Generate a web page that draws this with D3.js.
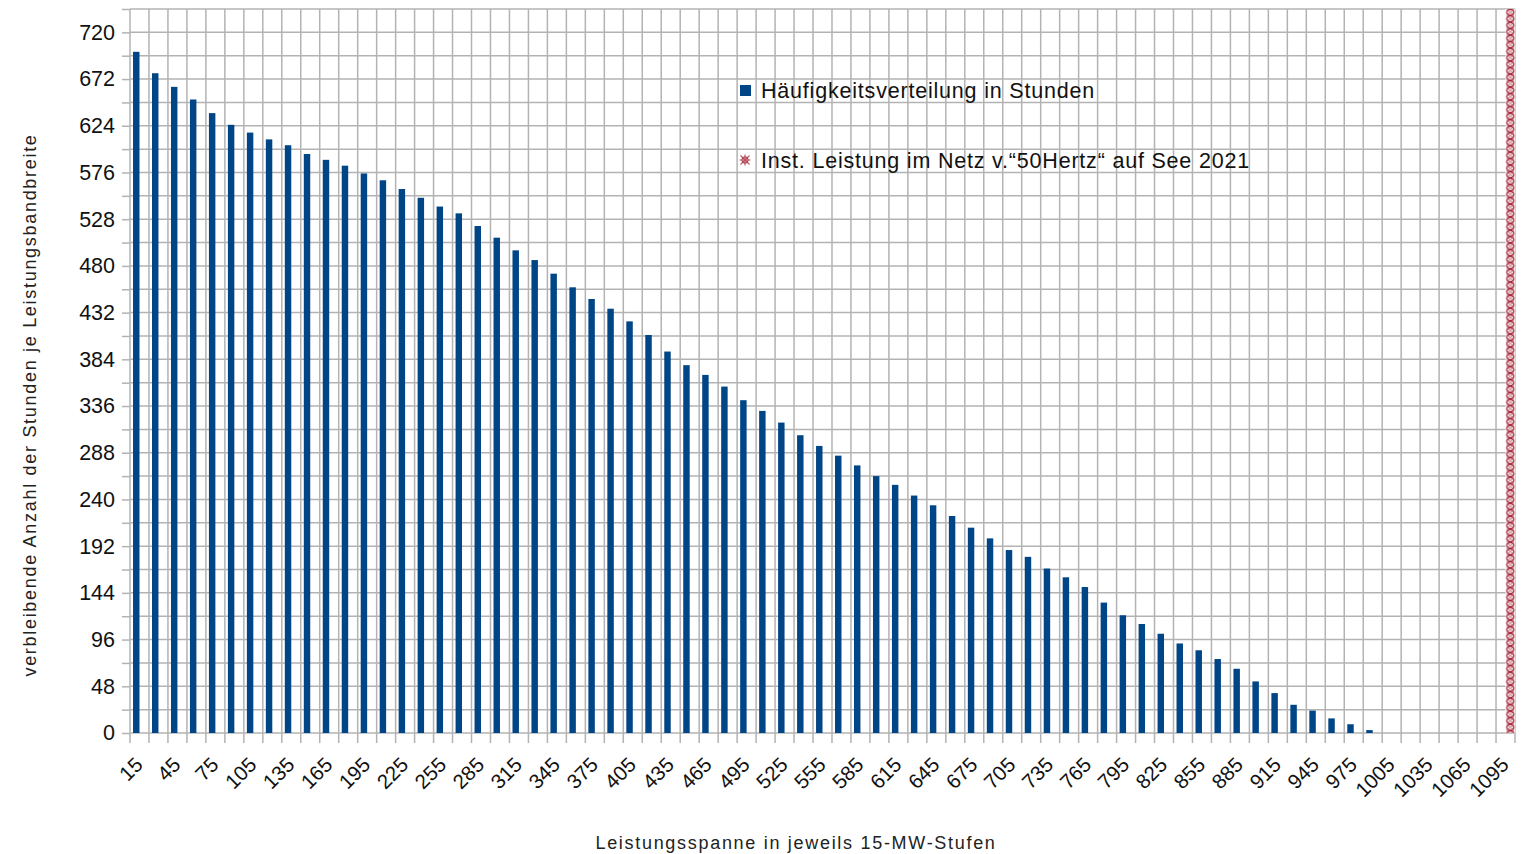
<!DOCTYPE html>
<html><head><meta charset="utf-8">
<script src="https://cdn.jsdelivr.net/npm/d3@7"></script>
<style>body{margin:0;background:#fff} svg{display:block}</style>
</head><body><svg id="c" width="1521" height="854"></svg>
<script>
const categories = [15,30,45,60,75,90,105,120,135,150,165,180,195,210,225,240,255,270,285,300,315,330,345,360,375,390,405,420,435,450,465,480,495,510,525,540,555,570,585,600,615,630,645,660,675,690,705,720,735,750,765,780,795,810,825,840,855,870,885,900,915,930,945,960,975,990,1005,1020,1035,1050,1065,1080,1095];
const hoursValues = [700,678,664,651,637,625,617,610,604,595,
  589,583,575,568,559,550,541,534,521,509,
  496,486,472,458,446,436,423,409,392,378,
  368,356,342,331,319,306,295,285,275,264,
  255,244,234,223,211,200,188,181,169,160,
  150,134,121,112,102,92,85,76,66,53,
  41,29,23,15,9,3,
  0,0,0,0,0,0,0];
const instCategories = [1095];
const instValues = [744];
const yTickValues = [0,24,48,72,96,120,144,168,192,216,240,264,288,312,336,360,384,408,432,456,480,504,528,552,576,600,624,648,672,696,720,744];
const yTickLabels = [0,48,96,144,192,240,288,336,384,432,480,528,576,624,672,720];
const xTickLabels = [15,45,75,105,135,165,195,225,255,285,315,345,375,405,435,465,495,525,555,585,615,645,675,705,735,765,795,825,855,885,915,945,975,1005,1035,1065,1095];
const seriesNames = ["Häufigkeitsverteilung in Stunden", "Inst. Leistung im Netz v.\u201C50Hertz\u201C auf See 2021"];
const xTitle = "Leistungsspanne in jeweils 15-MW-Stufen";
const yTitle = "verbleibende Anzahl der Stunden je Leistungsbandbreite";

const blue = "#004586", red = "#a82c3c", grid = "#b3b3b3";
const L = 130, R = 1515, T = 9, B = 733;
const svg = d3.select("#c");

const x0 = d3.scaleBand().domain(categories).range([L, R]).padding(0);
const bw = x0.bandwidth();
const x1 = d3.scaleBand().domain(["h","i"]).range([bw*0.16, bw*0.84]);
const y = d3.scaleLinear().domain([0, 744]).range([B, T]);

// pattern for installed capacity
const defs = svg.append("defs");
const pw = x1.bandwidth() * 1.5;
const instX = x0(instCategories[0]) + x1("i");
const pat = defs.append("pattern").attr("id","hatch").attr("patternUnits","userSpaceOnUse")
  .attr("x", instX).attr("y", T).attr("width", pw).attr("height", 6.5);
pat.append("rect").attr("width", pw).attr("height", 6.5).attr("fill","#fff");
pat.append("path").attr("d", `M1,0.5L${pw-1},6M${pw-1},0.5L1,6`).attr("stroke", red).attr("stroke-width", 0.9).attr("opacity",0.7);
pat.append("ellipse").attr("cx", pw/2).attr("cy", 3.25).attr("rx", pw/2-1.3).attr("ry", 2.9)
  .attr("fill","none").attr("stroke", red).attr("stroke-width", 1.4);

const pat2 = defs.append("pattern").attr("id","hatch2").attr("patternUnits","userSpaceOnUse")
  .attr("x", 738).attr("y", 153).attr("width", 14).attr("height", 14);
pat2.append("rect").attr("width",14).attr("height",14).attr("fill","#fff");
pat2.append("path").attr("d","M2.5,2.5L11.5,11.5M11.5,2.5L2.5,11.5M7,1.5L7,12.5M1.5,7L12.5,7").attr("stroke", red).attr("stroke-width",1.1).attr("opacity",0.8);
pat2.append("circle").attr("cx",7).attr("cy",7).attr("r",3.2).attr("fill","none").attr("stroke",red).attr("stroke-width",1);

// horizontal grid
svg.append("g").selectAll("line").data(yTickValues).join("line")
  .attr("x1", L).attr("x2", R).attr("y1", d => y(d)).attr("y2", d => y(d))
  .attr("stroke", grid).attr("stroke-width", 1.5);
// vertical grid at category boundaries
const bounds = categories.map(c => x0(c)).concat([x0.range()[1]]);
svg.append("g").selectAll("line").data(bounds).join("line")
  .attr("x1", d => d).attr("x2", d => d).attr("y1", T).attr("y2", B + 10)
  .attr("stroke", grid).attr("stroke-width", 1.5);

// y axis ticks + labels
const yAxis = d3.axisLeft(y).tickValues(yTickValues).tickSize(8).tickPadding(7)
  .tickFormat(d => yTickLabels.includes(d) ? d : "");
const ga = svg.append("g").attr("transform", `translate(${L},0)`).call(yAxis);
ga.select(".domain").remove();
ga.selectAll(".tick line").attr("stroke", grid).attr("stroke-width", 1.5);
ga.selectAll(".tick text").attr("font-family", "Liberation Sans, Arial, sans-serif")
  .attr("font-size", 21.5).attr("fill", "#111");

// bars
svg.append("g").selectAll("rect").data(categories.map((c,i) => ({c, v: hoursValues[i]})).filter(d => d.v > 0))
  .join("rect")
  .attr("x", d => x0(d.c) + x1("h")).attr("width", x1.bandwidth())
  .attr("y", d => y(d.v)).attr("height", d => y(0) - y(d.v)).attr("fill", blue);
svg.append("g").selectAll("rect").data(instCategories.map((c,i) => ({c, v: instValues[i]})))
  .join("rect")
  .attr("x", d => x0(d.c) + x1("i")).attr("width", pw)
  .attr("y", d => y(d.v)).attr("height", d => y(0) - y(d.v)).attr("fill", "url(#hatch)");

// x labels
svg.append("g").selectAll("text").data(xTickLabels).join("text")
  .attr("transform", d => `translate(${x0(d) + bw/2 + 4.5},766) rotate(-45)`)
  .attr("text-anchor", "end")
  .attr("font-family", "Liberation Sans, Arial, sans-serif").attr("font-size", 20.5).attr("fill", "#111")
  .text(d => d);

// axis titles
svg.append("text").attr("x", 796).attr("y", 849).attr("text-anchor","middle")
  .attr("font-family","Liberation Sans, Arial, sans-serif").attr("font-size", 18).attr("letter-spacing", 1.7)
  .attr("fill","#222").text(xTitle);
svg.append("text").attr("transform","translate(36,405) rotate(-90)").attr("text-anchor","middle")
  .attr("font-family","Liberation Sans, Arial, sans-serif").attr("font-size", 18).attr("letter-spacing", 1.7)
  .attr("fill","#222").text(yTitle);

// legend
svg.append("rect").attr("x", 740).attr("y", 85).attr("width", 11).attr("height", 11).attr("fill", blue);
svg.append("rect").attr("x", 738).attr("y", 153).attr("width", 14).attr("height", 14).attr("fill", "url(#hatch2)");
svg.append("g").selectAll("text").data(seriesNames).join("text")
  .attr("x", 761).attr("y", (d,i) => i === 0 ? 98 : 168)
  .attr("font-family","Liberation Sans, Arial, sans-serif").attr("font-size", 21.5).attr("letter-spacing", 0.8)
  .attr("fill","#111").text(d => d);
</script>
</body></html>
